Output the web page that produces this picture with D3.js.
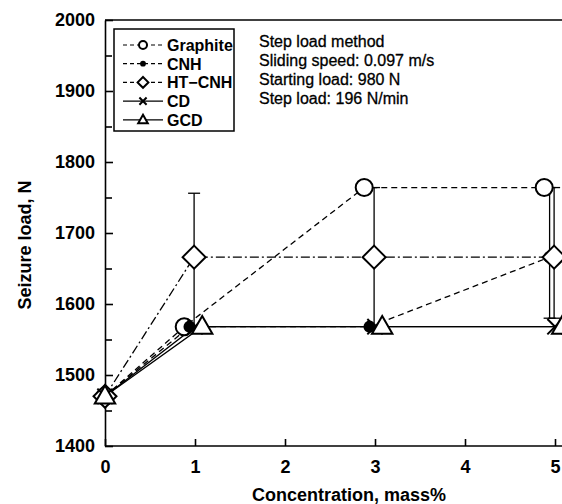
<!DOCTYPE html>
<html>
<head>
<meta charset="utf-8">
<script src="https://cdn.jsdelivr.net/npm/d3@7"></script>
<style>
  body { margin: 0; background: #fff; }
  svg { font-family: "Liberation Sans", Arial, sans-serif; display: block; }
  .axis path, .axis line { stroke: #000; stroke-width: 1.6; }
  .axis text { font-size: 18px; font-weight: bold; fill: #000; }
</style>
</head>
<body>
<svg></svg>
<script>
// concentration, mass%
var concentration = [0, 1, 3, 5];

// seizure load, N
var graphite = [1470, 1568, 1764, 1764];
var cnh = [1470, 1568, 1568, 1666];
var htCnh = [1470, 1666, 1666, 1666];
var cd = [1470, 1568, 1568, 1568];
var gcd = [1470, 1568, 1568, 1568];

// error bars [concentration, low, high]
var cnhErr = [[5, 1580, 1764]];
var htCnhErr = [[1, 1568, 1756], [3, 1568, 1764], [5, 1580, 1764]];

var yTicks = [1400, 1500, 1600, 1700, 1800, 1900, 2000];
var yMinor = [1450, 1550, 1650, 1750, 1850, 1950];
var xTicks = [0, 1, 2, 3, 4, 5];

var notes = ["Step load method", "Sliding speed: 0.097 m/s", "Starting load: 980 N", "Step load: 196 N/min"];

var width = 562;
var height = 504;

var svg = d3.select("svg")
  .attr("width", width)
  .attr("height", height);

var xScale = d3.scaleLinear()
  .domain([0, 5])
  .range([105, 555]);

var yScale = d3.scaleLinear()
  .domain([1400, 2000])
  .range([446, 20]);

// series look; dodge shifts markers sideways like the original figure
var series = [
  {name: "Graphite", values: graphite, err: [], dash: "6,4", marker: "circle", dodge: -0.12},
  {name: "CNH", values: cnh, err: cnhErr, dash: "6,4", marker: "dot", dodge: -0.06},
  {name: "HT\u2212CNH", values: htCnh, err: htCnhErr, dash: "9,3,2,3", marker: "diamond", dodge: -0.01},
  {name: "CD", values: cd, err: [], dash: null, marker: "cross", dodge: 0},
  {name: "GCD", values: gcd, err: [], dash: null, marker: "triangle", dodge: 0.08}
];

function xPos(s, c) {
  return xScale(c === 0 ? 0 : c + s.dodge);
}

// frame top
svg.append("line")
  .attr("x1", xScale(0)).attr("x2", width + 20)
  .attr("y1", yScale(2000)).attr("y2", yScale(2000))
  .attr("stroke", "#000").attr("stroke-width", 1.6);

var xAxis = d3.axisBottom(xScale)
  .tickValues(xTicks)
  .tickFormat(d3.format("d"))
  .tickSizeInner(-7)
  .tickSizeOuter(0)
  .tickPadding(14);

svg.append("g")
  .attr("class", "axis")
  .attr("transform", "translate(0," + yScale(1400) + ")")
  .call(xAxis)
  .select(".domain").attr("d", "M" + xScale(0) + ",0H" + (width + 20));

var yAxis = d3.axisLeft(yScale)
  .tickValues(yTicks)
  .tickFormat(d3.format("d"))
  .tickSizeInner(-8)
  .tickSizeOuter(0)
  .tickPadding(10);

svg.append("g")
  .attr("class", "axis")
  .attr("transform", "translate(" + xScale(0) + ",0)")
  .call(yAxis);

var yMinorAxis = d3.axisLeft(yScale)
  .tickValues(yMinor)
  .tickFormat("")
  .tickSizeInner(-7)
  .tickSizeOuter(0);

svg.append("g")
  .attr("class", "axis")
  .attr("transform", "translate(" + xScale(0) + ",0)")
  .call(yMinorAxis)
  .select(".domain").remove();

// axis titles
svg.append("text")
  .attr("x", 349).attr("y", 501)
  .attr("text-anchor", "middle")
  .style("font-size", "18px").style("font-weight", "bold")
  .text("Concentration, mass%");

svg.append("text")
  .attr("transform", "translate(31,245) rotate(-90)")
  .attr("text-anchor", "middle")
  .style("font-size", "18px").style("font-weight", "bold")
  .text("Seizure load, N");

// lines
var plot = svg.append("g");

series.forEach(function(s) {
  var line = d3.line()
    .x(function(d, i) { return xPos(s, concentration[i]); })
    .y(function(d) { return yScale(d); });
  plot.append("path")
    .datum(s.values)
    .attr("d", line)
    .attr("fill", "none")
    .attr("stroke", "#000")
    .attr("stroke-width", 1.3)
    .attr("stroke-dasharray", s.dash);
});

// error bars
series.forEach(function(s) {
  s.err.forEach(function(e) {
    var x = xPos(s, e[0]);
    var g = plot.append("g").attr("stroke", "#000").attr("stroke-width", 1.3);
    g.append("line").attr("x1", x).attr("x2", x).attr("y1", yScale(e[1])).attr("y2", yScale(e[2]));
    g.append("line").attr("x1", x - 6).attr("x2", x + 6).attr("y1", yScale(e[1])).attr("y2", yScale(e[1]));
    g.append("line").attr("x1", x - 6).attr("x2", x + 6).attr("y1", yScale(e[2])).attr("y2", yScale(e[2]));
  });
});

function drawMarker(g, type, x, y, size) {
  if (type === "circle") {
    g.append("circle").attr("cx", x).attr("cy", y).attr("r", size)
      .attr("fill", "#fff").attr("stroke", "#000").attr("stroke-width", 2);
  } else if (type === "dot") {
    g.append("circle").attr("cx", x).attr("cy", y).attr("r", size * 0.72)
      .attr("fill", "#000");
  } else if (type === "diamond") {
    var h = size * 1.35;
    g.append("path")
      .attr("d", "M" + x + "," + (y - h) + "L" + (x + h) + "," + y + "L" + x + "," + (y + h) + "L" + (x - h) + "," + y + "Z")
      .attr("fill", "#fff").attr("stroke", "#000").attr("stroke-width", 2);
  } else if (type === "cross") {
    var c = size * 0.9;
    g.append("path")
      .attr("d", "M" + (x - c) + "," + (y - c) + "L" + (x + c) + "," + (y + c) + "M" + (x - c) + "," + (y + c) + "L" + (x + c) + "," + (y - c))
      .attr("stroke", "#000").attr("stroke-width", 2);
  } else if (type === "triangle") {
    var t = size * 1.2;
    g.append("path")
      .attr("d", "M" + x + "," + (y - t * 1.05) + "L" + (x + t) + "," + (y + t * 0.7) + "L" + (x - t) + "," + (y + t * 0.7) + "Z")
      .attr("fill", "#fff").attr("stroke", "#000").attr("stroke-width", 2);
  }
}

// markers
series.forEach(function(s) {
  s.values.forEach(function(v, i) {
    drawMarker(plot, s.marker, xPos(s, concentration[i]), yScale(v), 8.5);
  });
});

// legend
var legend = svg.append("g");
legend.append("rect")
  .attr("x", 114).attr("y", 29).attr("width", 120).attr("height", 102)
  .attr("fill", "#fff").attr("stroke", "#000").attr("stroke-width", 1.5);

series.forEach(function(s, i) {
  var y = 45 + i * 18.7;
  legend.append("line")
    .attr("x1", 123).attr("x2", 163).attr("y1", y).attr("y2", y)
    .attr("stroke", "#000").attr("stroke-width", 1.2)
    .attr("stroke-dasharray", s.dash ? "4,3" : null);
  drawMarker(legend, s.marker, 143, y, 4);
  legend.append("text")
    .attr("x", 167).attr("y", y + 6)
    .style("font-size", "16px").style("font-weight", "bold")
    .text(s.name);
});

// test conditions
svg.append("g").selectAll("text")
  .data(notes)
  .enter()
  .append("text")
  .attr("x", 259)
  .attr("y", function(d, i) { return 47 + i * 19; })
  .style("font-size", "16px")
  .style("stroke", "#000").style("stroke-width", 0.3)
  .text(function(d) { return d; });
</script>
</body>
</html>
